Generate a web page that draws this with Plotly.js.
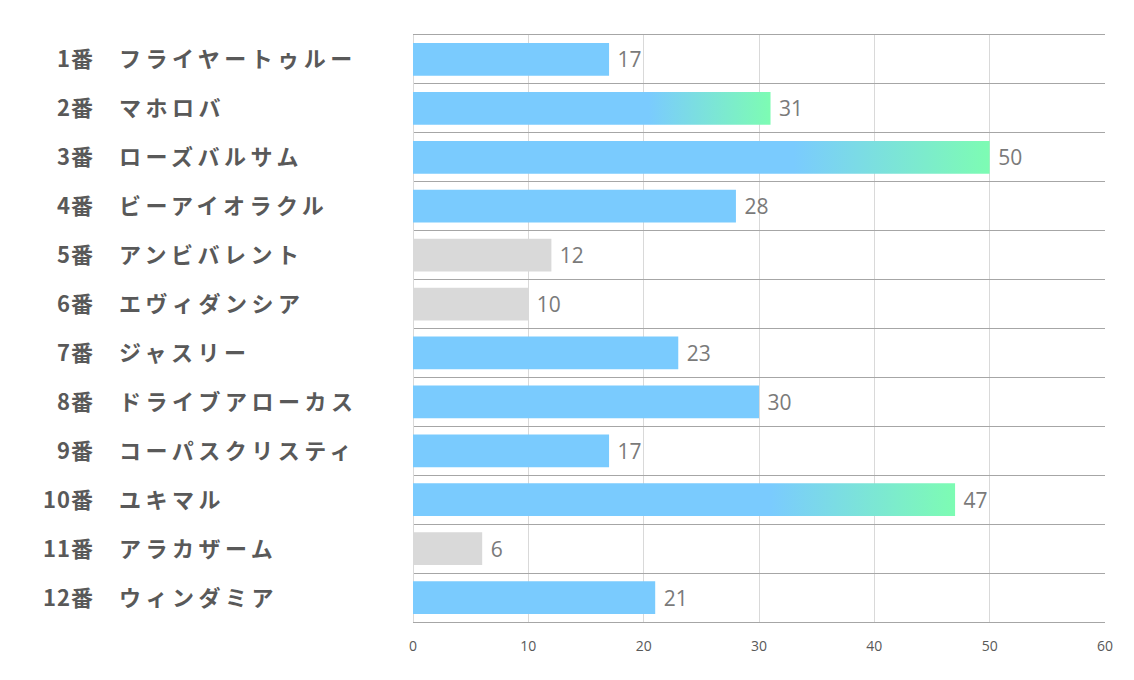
<!DOCTYPE html>
<html>
<head>
<meta charset="utf-8">
<script src="https://cdn.plot.ly/plotly-3.0.1.min.js"></script>
<style>
html,body{margin:0;padding:0;background:#fff;}
#chart{width:1134px;height:680px;}
</style>
</head>
<body>
<div id="chart"></div>
<script>
const numbers = ['1番','2番','3番','4番','5番','6番','7番','8番','9番','10番','11番','12番'];
const names = ['フライヤートゥルー','マホロバ','ローズバルサム','ビーアイオラクル','アンビバレント','エヴィダンシア','ジャスリー','ドライブアローカス','コーパスクリスティ','ユキマル','アラカザーム','ウィンダミア'];
const values = [17,31,50,28,12,10,23,30,17,47,6,21];
const status = ['normal','top','top','normal','out','out','normal','normal','normal','top','out','normal'];
const xTicks = [0,10,20,30,40,50,60];

const BLUE = '#7ACBFE', GRAY = '#D9D9D9';
const cats = numbers.map((n,i)=>n+' '+names[i]);
const colors = status.map(s => s==='out' ? GRAY : BLUE);

const trace = {
  type:'bar', orientation:'h',
  x: values, y: cats,
  width: 0.67,
  marker:{color: colors, line:{width:0}},
  text: values.map(v=>'\u00A0'+v),
  textposition:'outside',
  textfont:{family:'Open Sans, sans-serif', size:21, color:'#7a7a7a'},
  cliponaxis:false,
  hoverinfo:'none'
};

const LABEL_FONT = {family:'Noto Sans CJK JP, sans-serif', size:22, color:'#595959', weight:'bold'};
const annotations = [];
cats.forEach((c,i)=>{
  annotations.push({xref:'paper', yref:'y', x:-0.458, y:c, yshift:2, text:numbers[i], showarrow:false,
    xanchor:'right', yanchor:'middle', name:'num', font:LABEL_FONT});
  annotations.push({xref:'paper', yref:'y', x:-0.428, y:c, yshift:2, text:names[i], showarrow:false,
    xanchor:'left', yanchor:'middle', name:'name', font:LABEL_FONT});
});

const layout = {
  width:1134, height:680,
  margin:{l:413, r:29, t:35, b:58},
  paper_bgcolor:'#fff', plot_bgcolor:'#fff',
  showlegend:false,
  bargap:0.33,
  xaxis:{range:[0,60], tickvals:xTicks, ticktext:xTicks.map(String),
    showgrid:true, gridcolor:'#D9D9D9', gridwidth:1, zeroline:true, zerolinecolor:'#D9D9D9',
    showline:true, mirror:true, linecolor:'#A6A6A6', linewidth:1,
    ticks:'outside', ticklen:11, tickcolor:'rgba(0,0,0,0)',
    tickfont:{family:'Open Sans, sans-serif', size:14, color:'#595959'},
    fixedrange:true},
  yaxis:{type:'category', autorange:'reversed', showticklabels:false,
    tickson:'boundaries', showgrid:true, gridcolor:'#A6A6A6', gridwidth:1, ticks:'',
    showline:false, zeroline:false, fixedrange:true},
  annotations: annotations
};

Plotly.newPlot('chart',[trace],layout,{displayModeBar:false, staticPlot:true}).then(gd=>{
  const svg = gd.querySelector('svg.main-svg');
  const ns = 'http://www.w3.org/2000/svg';
  let defs = svg.querySelector('defs');
  if(!defs){ defs = document.createElementNS(ns,'defs'); svg.insertBefore(defs, svg.firstChild); }
  const lg = document.createElementNS(ns,'linearGradient');
  lg.setAttribute('id','topGrad');
  lg.setAttribute('x1','0'); lg.setAttribute('x2','1'); lg.setAttribute('y1','0'); lg.setAttribute('y2','0');
  [[0,BLUE],[0.66,BLUE],[1,'#7DFCB3']].forEach(([o,c])=>{
    const st = document.createElementNS(ns,'stop');
    st.setAttribute('offset',o); st.setAttribute('stop-color',c);
    lg.appendChild(st);
  });
  defs.appendChild(lg);
  const paths = gd.querySelectorAll('.barlayer .trace .point path');
  paths.forEach((p,i)=>{ if(status[i]==='top') p.style.fill='url(#topGrad)'; });

  // spacing of the row labels (kept anchored at their edge)
  const texts = gd.querySelectorAll('.annotation .annotation-text');
  texts.forEach((t,k)=>{
    const bb = t.getBBox();
    if(k%2===1){
      t.setAttribute('text-anchor','start');
      t.setAttribute('x', bb.x);
      t.style.letterSpacing='4.5px';
    } else {
      t.setAttribute('text-anchor','end');
      t.setAttribute('x', bb.x+bb.width);
      t.style.letterSpacing='1px';
    }
  });
});
</script>
</body>
</html>
